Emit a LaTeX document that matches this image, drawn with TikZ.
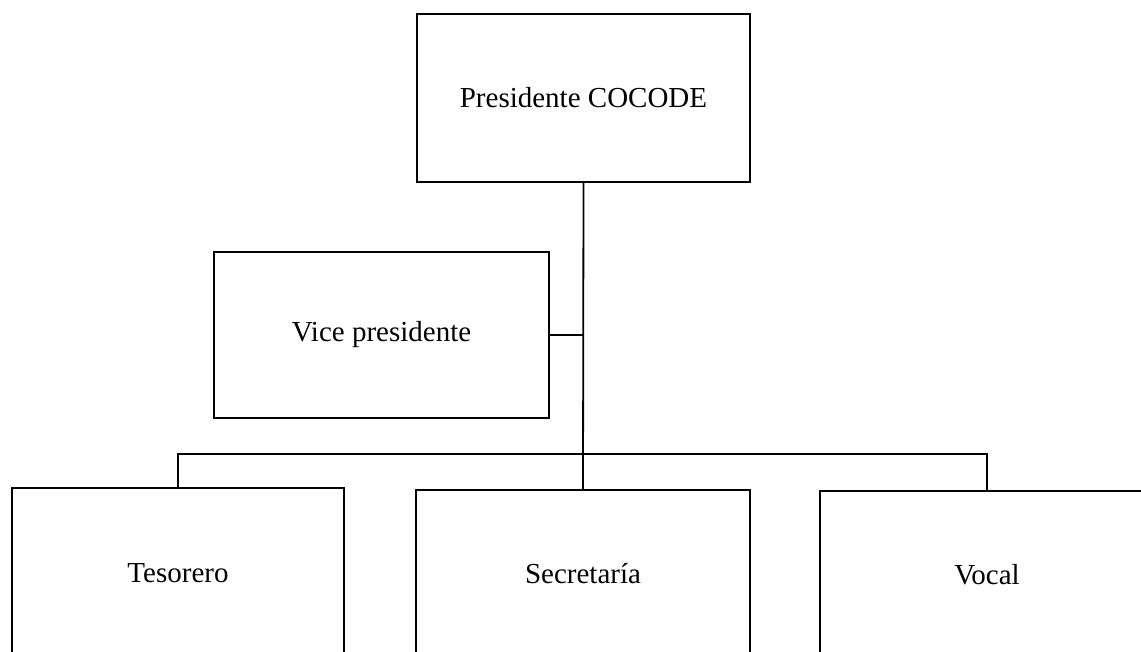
\documentclass[tikz,border=0pt]{standalone}
\usepackage{fontspec}
\setmainfont{Liberation Serif}
\begin{document}
\begin{tikzpicture}[x=1pt,y=-1pt,
  box/.style={draw,line width=1.8pt,inner sep=0pt,align=center,font=\fontsize{29}{33}\selectfont},
  link/.style={line width=1.8pt}]
\clip (0,0) rectangle (1141,651);
\fill[white] (0,0) rectangle (1141,651);
\node[box,minimum width=333pt,minimum height=168pt] (pres) at (583.5,98) {Presidente COCODE};
\node[box,minimum width=335pt,minimum height=166pt] (vice) at (381.5,335) {Vice presidente};
\node[box,minimum width=332pt,minimum height=170pt] (tes) at (178,573) {Tesorero};
\node[box,minimum width=334pt,minimum height=168pt] (sec) at (583,574) {Secretaría};
\node[box,minimum width=334pt,minimum height=168pt] (voc) at (987,575) {Vocal};
\coordinate (bar) at (583,454);
\draw[link] (pres.south) -- (sec.north);
\draw[link] (vice.east) -- (vice.east -| pres.south);
\draw[link] (tes.north) -- (tes.north |- bar) -- (voc.north |- bar) -- (voc.north);
\end{tikzpicture}
\end{document}
